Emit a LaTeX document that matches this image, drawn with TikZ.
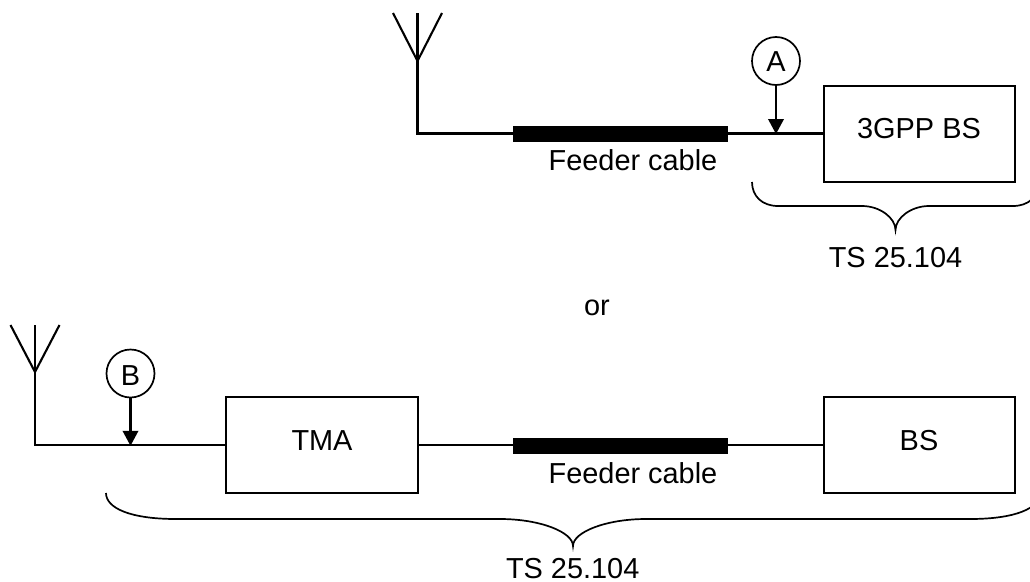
\documentclass[tikz,border=0pt]{standalone}
\usepackage{fontspec}
\setmainfont{Liberation Sans}
\usetikzlibrary{arrows.meta}
\tikzset{
  x=1pt,y=-1pt,
  wire/.style={line width=2.1pt,line join=miter,black},
  boxnode/.style={draw=black,line width=2.1pt,fill=white,inner sep=0pt,minimum height=96pt,minimum width=#1},
  cablenode/.style={fill=black,draw=none,inner sep=0pt,minimum width=215pt,minimum height=16pt},
  marker/.style={circle,draw=black,line width=1.7pt,inner sep=0pt,minimum size=48pt,fill=white},
  label/.style={font=\fontsize{28.9pt}{30pt}\selectfont,anchor=base,inner sep=0pt,text=black},
  probe/.style={wire,-{Triangle[length=15pt,width=15.5pt]},shorten >=-0.5pt},
  bracket/.style={line width=1.7pt,black}
}
\begin{document}
\begin{tikzpicture}
\useasboundingbox (0,0) rectangle (1030,581);
% top chain
\coordinate (antA) at (417.5,61);
\coordinate (antAtop) at (417.5,13);
\coordinate (antAl) at (393,13);
\coordinate (antAr) at (442,13);
\coordinate (cornerA) at (417.5,133.5);
\coordinate (tapA) at (776,133.5);
\node[cablenode] (cableA) at (620.5,134) {};
\node[boxnode=191.5pt] (bs3) at (919.5,133.7) {};
\node[marker] (mA) at (776,61) {};
\draw[wire] (antAtop) -- (cornerA) -- (cableA.west |- cornerA);
\draw[wire] (antAl) -- (antA) -- (antAr);
\draw[wire] (cableA.east |- tapA) -- (bs3.west |- tapA);
\draw[probe] (mA.south) -- (tapA);
\node[label] at (776,71.7) {A};
\node[label] at (919,138.5) {3GPP BS};
\node[label] at (633,170.7) {Feeder cable};
\node[label] at (895.5,267) {TS 25.104};
\coordinate (brAl) at (752,182);
\coordinate (brAr) at (1039,182);
\coordinate (brAm) at (895.5,230);
\draw[bracket] (brAl) .. controls (752,196) and (762,206) .. (778,206)
  -- (862,206) .. controls (880,206) and (895.5,218) .. (brAm)
  .. controls (895.5,218) and (911,206) .. (929,206)
  -- (1013,206) .. controls (1029,206) and (1039,196) .. (brAr);
% or
\node[label] at (597,315.5) {or};
% bottom chain
\coordinate (antB) at (35,372);
\coordinate (antBtop) at (35,325);
\coordinate (antBl) at (10.5,325);
\coordinate (antBr) at (59.5,325);
\coordinate (cornerB) at (35,445.3);
\coordinate (tapB) at (130.5,445.3);
\node[boxnode=192pt] (tma) at (322,445.3) {};
\node[cablenode] (cableB) at (620.5,445.7) {};
\node[boxnode=191.5pt] (bs) at (919.5,445.3) {};
\node[marker] (mB) at (130.5,373.5) {};
\draw[wire] (antBtop) -- (cornerB) -- (tma.west |- cornerB);
\draw[wire] (antBl) -- (antB) -- (antBr);
\draw[wire] (tma.east |- cornerB) -- (cableB.west |- cornerB);
\draw[wire] (cableB.east |- cornerB) -- (bs.west |- cornerB);
\draw[probe] (mB.south) -- (tapB);
\node[label] at (130.5,385) {B};
\node[label] at (322,450.7) {TMA};
\node[label] at (919,450.7) {BS};
\node[label] at (633,483.3) {Feeder cable};
\node[label] at (572.7,578) {TS 25.104};
\coordinate (brBl) at (106,493);
\coordinate (brBr) at (1040,493);
\coordinate (brBm) at (573,546);
\draw[bracket] (brBl) .. controls (106,508) and (130,519) .. (176,519)
  -- (500,519) .. controls (540,519) and (573,532) .. (brBm)
  .. controls (573,532) and (606,519) .. (646,519)
  -- (970,519) .. controls (1016,519) and (1040,508) .. (brBr);
\end{tikzpicture}
\end{document}
